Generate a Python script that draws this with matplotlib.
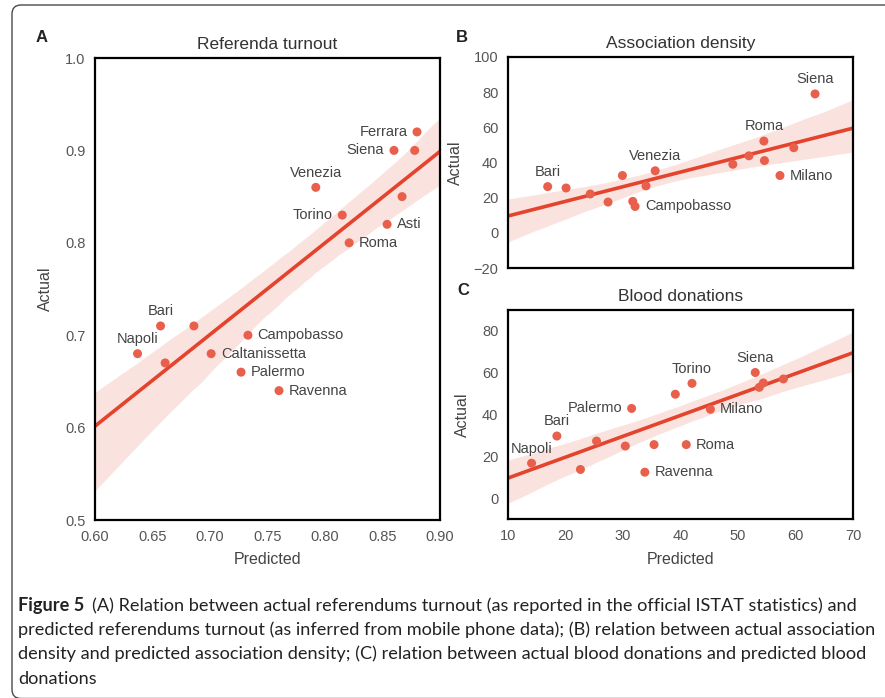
import numpy as np
import matplotlib
matplotlib.use('Agg')
import matplotlib.pyplot as plt
import seaborn as sns
from matplotlib.patches import FancyBboxPatch
from matplotlib.transforms import IdentityTransform

# ---------------- data ----------------
# Panel A: Referenda turnout
a_pred = [0.880, 0.860, 0.878, 0.792, 0.867, 0.815, 0.854, 0.821,
          0.657, 0.686, 0.637, 0.661, 0.733, 0.701, 0.727, 0.760]
a_act = [0.92, 0.90, 0.90, 0.86, 0.85, 0.83, 0.82, 0.80,
         0.71, 0.71, 0.68, 0.67, 0.70, 0.68, 0.66, 0.64]
a_names = ['Ferrara', 'Siena', '', 'Venezia', '', 'Torino', 'Asti', 'Roma',
           'Bari', '', 'Napoli', '', 'Campobasso', 'Caltanissetta', 'Palermo', 'Ravenna']

# Panel B: Association density
b_pred = [63.4, 54.5, 59.7, 51.9, 49.1, 54.6, 57.3, 35.6,
          29.9, 34.0, 16.9, 20.1, 24.3, 27.4, 31.7, 32.1]
b_act = [79.0, 52.2, 48.4, 43.8, 39.0, 41.1, 32.6, 35.3,
         32.6, 26.7, 26.3, 25.5, 22.1, 17.5, 17.9, 15.0]
b_names = ['Siena', 'Roma', '', '', '', '', 'Milano', 'Venezia',
           '', '', 'Bari', '', '', '', '', 'Campobasso']

# Panel C: Blood donations
c_pred = [53.0, 54.4, 53.7, 57.9, 42.0, 39.1, 45.2, 31.5,
          18.5, 25.4, 30.4, 35.4, 41.0, 14.1, 22.6, 33.8]
c_act = [60.1, 55.1, 53.0, 57.0, 54.9, 49.7, 42.5, 42.9,
         29.7, 27.3, 24.9, 25.6, 25.6, 16.7, 13.7, 12.4]
c_names = ['Siena', '', '', '', 'Torino', '', 'Milano', 'Palermo',
           'Bari', '', '', '', 'Roma', 'Napoli', '', 'Ravenna']

titles = ['Referenda turnout', 'Association density', 'Blood donations']
panel_letters = ['A', 'B', 'C']

a_xticks = [0.60, 0.65, 0.70, 0.75, 0.80, 0.85, 0.90]
a_yticks = [0.5, 0.6, 0.7, 0.8, 0.9, 1.0]
b_yticks = [-20, 0, 20, 40, 60, 80, 100]
c_xticks = [10, 20, 30, 40, 50, 60, 70]
c_yticks = [0, 20, 40, 60, 80]

caption_bold = 'Figure 5'
caption_lines = [
    '(A) Relation between actual referendums turnout (as reported in the official ISTAT statistics) and',
    'predicted referendums turnout (as inferred from mobile phone data); (B) relation between actual association',
    'density and predicted association density; (C) relation between actual blood donations and predicted blood',
    'donations',
]

# label placement (style)
place_a = {'Ferrara': 'left', 'Siena': 'left', 'Venezia': 'above', 'Torino': 'left',
           'Asti': 'right', 'Roma': 'right', 'Bari': 'above', 'Napoli': 'above',
           'Campobasso': 'right', 'Caltanissetta': 'right', 'Palermo': 'right',
           'Ravenna': 'right'}
place_b = {'Siena': 'above', 'Roma': 'above', 'Venezia': 'above', 'Bari': 'above',
           'Milano': 'right', 'Campobasso': 'right'}
place_c = {'Siena': 'above', 'Torino': 'above', 'Palermo': 'left', 'Bari': 'above',
           'Napoli': 'above', 'Milano': 'right', 'Roma': 'right', 'Ravenna': 'right'}

# ---------------- style ----------------
plt.rcParams['font.family'] = ['Liberation Sans', 'DejaVu Sans']
POINT = '#e8604c'
LINE = '#e4432d'
TXT = '#444444'

W, H = 885, 698
fig = plt.figure(figsize=(W / 100, H / 100), dpi=100)
fig.patch.set_facecolor('white')


def rect(l, t, r, b):
    return [l / W, 1 - b / H, (r - l) / W, (b - t) / H]


axA = fig.add_axes(rect(95, 58, 440, 520))
axB = fig.add_axes(rect(508, 57, 853, 268))
axC = fig.add_axes(rect(508, 310, 853, 519))


def draw(ax, x, y, names, place, xlim, ylim, title):
    ax.set_xlim(*xlim)
    ax.set_ylim(*ylim)
    sns.regplot(x=np.array(x), y=np.array(y), ax=ax, truncate=False, ci=95,
                n_boot=1000, seed=3,
                scatter_kws=dict(s=42, color=POINT, alpha=1, edgecolor='none', zorder=3),
                line_kws=dict(color=LINE, lw=2.6, zorder=2))
    ax.set_xlim(*xlim)
    ax.set_ylim(*ylim)
    for xi, yi, n in zip(x, y, names):
        if not n:
            continue
        p = place[n]
        if p == 'left':
            ax.annotate(n, (xi, yi), xytext=(-7, 0), textcoords='offset points',
                        ha='right', va='center', fontsize=10.5, color=TXT)
        elif p == 'right':
            ax.annotate(n, (xi, yi), xytext=(7, 0), textcoords='offset points',
                        ha='left', va='center', fontsize=10.5, color=TXT)
        else:
            ax.annotate(n, (xi, yi), xytext=(0, 10.5), textcoords='offset points',
                        ha='center', va='center', fontsize=10.5, color=TXT)
    for s in ax.spines.values():
        s.set_linewidth(1.6)
        s.set_color('black')
    ax.tick_params(length=0, pad=7, labelsize=10.5, labelcolor='#555555')
    ax.set_title(title, fontsize=12.5, color='#333333', pad=6.5)
    ax.set_facecolor('white')


draw(axA, a_pred, a_act, a_names, place_a, (0.60, 0.90), (0.5, 1.0), titles[0])
axA.set_xticks(a_xticks)
axA.set_xticklabels(['%.2f' % v for v in a_xticks])
axA.set_yticks(a_yticks)
axA.set_yticklabels(['%.1f' % v for v in a_yticks])

draw(axB, b_pred, b_act, b_names, place_b, (10, 70), (-20, 100), titles[1])
axB.set_xticks([])
axB.set_yticks(b_yticks)

draw(axC, c_pred, c_act, c_names, place_c, (10, 70), (-10, 90), titles[2])
axC.set_xticks(c_xticks)
axC.set_yticks(c_yticks)

for ax, lx in [(axA, 45), (axB, 455), (axC, 462)]:
    ax.set_ylabel('Actual', fontsize=11.5, color='#444444', va='center')
    bb = ax.get_position()
    ax.yaxis.set_label_coords((lx / W - bb.x0) / bb.width, 0.5)
for ax in (axA, axC):
    ax.set_xlabel('Predicted', fontsize=11.5, color='#444444', va='center')
    bb = ax.get_position()
    ax.xaxis.set_label_coords(0.5, ((1 - 559 / H) - bb.y0) / bb.height)

for letter, (px, py) in zip(panel_letters, [(42, 37), (462, 37), (463, 291)]):
    fig.text(px / W, 1 - py / H, letter, fontsize=12, weight='bold',
             ha='center', va='center', color='#222222')

# outer rounded frame (bottom edge falls just at the image border)
frame = FancyBboxPatch((12, -0.5), 900, 693.5, boxstyle='round,pad=0,rounding_size=9',
                       transform=IdentityTransform(), facecolor='none',
                       edgecolor='#4a4a4a', lw=1.0, clip_on=False)
fig.patches.append(frame)

# caption
cap_family = ['Lato', 'DejaVu Sans']
baselines = [611, 635, 659, 684]
renderer = fig.canvas.get_renderer()
probe = fig.text(18 / W, 0.5, caption_lines[1], fontsize=12, family=cap_family)
wpx = probe.get_window_extent(renderer).width
probe.remove()
cap_size = 12 * 853 / wpx
tb = fig.text(18 / W, 1 - baselines[0] / H, caption_bold, fontsize=cap_size,
              weight='bold', family=cap_family, va='baseline', color='#222222')
bw = tb.get_window_extent(renderer).x1
fig.text((bw + 8) / W, 1 - baselines[0] / H, caption_lines[0], fontsize=cap_size,
         family=cap_family, va='baseline', color='#222222')
for line, bl in zip(caption_lines[1:], baselines[1:]):
    fig.text(18 / W, 1 - bl / H, line, fontsize=cap_size, family=cap_family,
             va='baseline', color='#222222')

fig.savefig('out.png', dpi=100)
